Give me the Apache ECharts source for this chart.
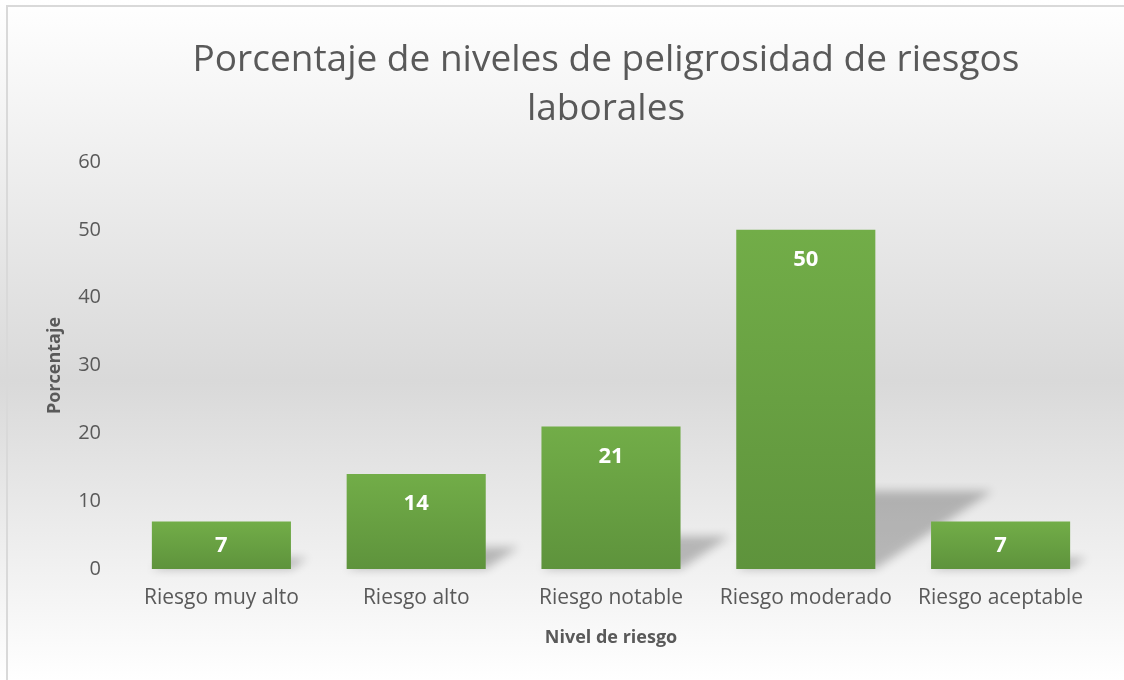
<!DOCTYPE html>
<html>
<head>
<meta charset="utf-8">
<script src="https://cdn.jsdelivr.net/npm/echarts@6/dist/echarts.min.js"></script>
<style>
  html, body { margin: 0; padding: 0; background: #fff; }
  #main { width: 1124px; height: 680px; }
</style>
</head>
<body>
<div id="main"></div>
<script>
var categories = ['Riesgo muy alto', 'Riesgo alto', 'Riesgo notable', 'Riesgo moderado', 'Riesgo aceptable'];
var values = [7, 14, 21, 50, 7];
var yTicks = [0, 10, 20, 30, 40, 50, 60];

var gapRatio = 0.286; // hueco entre barras
var textGray = '#595959';
var myChart = echarts.init(document.getElementById('main'));

// sombra inclinada detras de cada barra
function renderShadow(params, api) {
	var base = api.coord([api.value(0), 0]);
	var top = api.coord([api.value(0), api.value(1)]);
	var w = api.size([1, 0])[0] * (1 - gapRatio);
	var h = (base[1] - top[1]) * 0.23;
	var shift = h * 1.5;
	var off = 3000; // se dibuja fuera y solo se ve la sombra difuminada
	return {
		type: 'polygon',
		shape: {
			points: [
				[base[0] - w / 2 - off, base[1]],
				[base[0] + w / 2 - off, base[1]],
				[base[0] + w / 2 + shift - off, base[1] - h],
				[base[0] - w / 2 + shift - off, base[1] - h]
			]
		},
		style: {
			fill: '#000',
			shadowColor: 'rgba(0,0,0,0.24)',
			shadowBlur: 10,
			shadowOffsetX: off,
			shadowOffsetY: 0
		}
	};
}

var barData = values.map(function(v) {
	return {
		value: v,
		label: { position: v < 10 ? 'inside' : 'insideTop' }
	};
});

option = {
	backgroundColor: {
		type: 'linear', x: 0, y: 0, x2: 0, y2: 1,
		colorStops: [
			{ offset: 0, color: '#ffffff' },
			{ offset: 0.56, color: '#d9d9d9' },
			{ offset: 1, color: '#ffffff' }
		]
	},
	textStyle: { fontFamily: 'Open Sans' },
	animation: false,
	title: {
		text: 'Porcentaje de niveles de peligrosidad de riesgos\nlaborales',
		left: 601,
		textAlign: 'center',
		top: 31,
		textStyle: {
			color: textGray,
			fontSize: 37,
			fontWeight: 'normal',
			lineHeight: 49,
			fontFamily: 'Open Sans'
		}
	},
	graphic: [{
		type: 'rect',
		shape: { x: 7, y: 6, width: 1200, height: 800 },
		style: { fill: null, stroke: '#d9d9d9', lineWidth: 2 },
		silent: true
	}],
	grid: { left: 124, right: 26, top: 162, bottom: 111 },
	xAxis: {
		type: 'category',
		data: categories,
		name: 'Nivel de riesgo',
		nameLocation: 'middle',
		nameGap: 60,
		nameTextStyle: { color: textGray, fontSize: 18, fontWeight: 'bold' },
		axisLine: { show: false },
		axisTick: { show: false },
		axisLabel: { color: textGray, fontSize: 21, margin: 19, interval: 0 }
	},
	yAxis: {
		type: 'value',
		min: yTicks[0],
		max: yTicks[yTicks.length - 1],
		interval: 10,
		name: 'Porcentaje',
		nameLocation: 'middle',
		nameGap: 60,
		nameTextStyle: { color: textGray, fontSize: 18, fontWeight: 'bold' },
		axisLine: { show: false },
		axisTick: { show: false },
		splitLine: { show: false },
		axisLabel: { color: textGray, fontSize: 20, margin: 23 }
	},
	series: [{
		type: 'custom',
		renderItem: renderShadow,
		data: values.map(function(v, i) { return [i, v]; }),
		z: 1,
		silent: true
	}, {
		type: 'bar',
		data: barData,
		barCategoryGap: (gapRatio * 100) + '%',
		z: 2,
		itemStyle: {
			color: {
				type: 'linear', x: 0, y: 0, x2: 0, y2: 1,
				colorStops: [
					{ offset: 0, color: '#72ad48' },
					{ offset: 1, color: '#5e933c' }
				]
			}
		},
		label: {
			show: true,
			color: '#ffffff',
			fontSize: 22,
			fontWeight: 'bold',
			distance: 19
		}
	}]
};

myChart.setOption(option);
</script>
</body>
</html>
